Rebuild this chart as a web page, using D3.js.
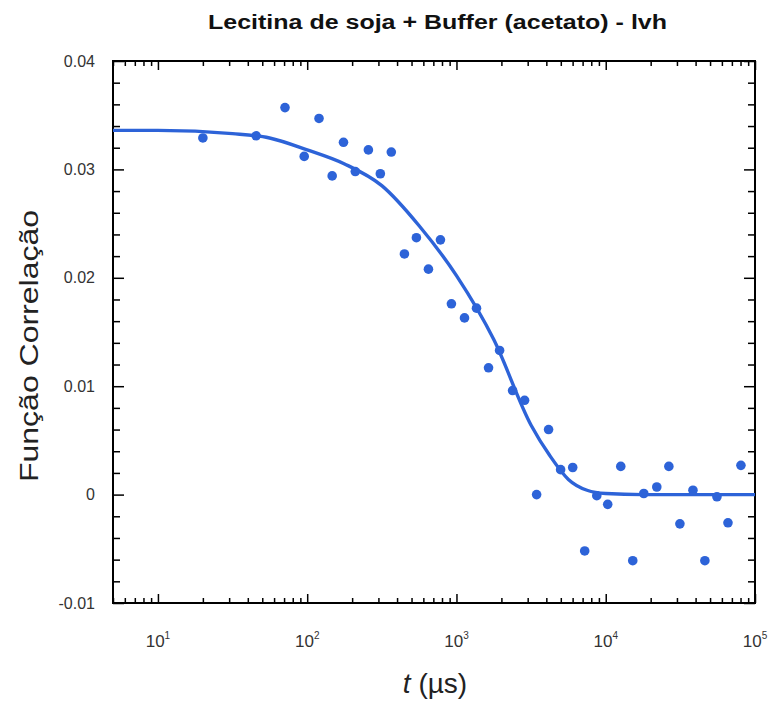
<!DOCTYPE html>
<html>
<head>
<meta charset="utf-8">
<script src="https://cdn.jsdelivr.net/npm/d3@7"></script>
<style>
  body { margin: 0; background: #fff; }
  text { font-family: "Liberation Sans", Arial, sans-serif; }
</style>
</head>
<body>
<div id="chart"></div>
<script>
// measured points: delay time t (µs) and correlation value
var tValues = [20, 45.5, 71, 95.5, 120, 147, 175, 210, 257, 309, 366,
    448, 539, 649, 781, 925, 1132, 1362, 1640, 1945, 2377, 2860,
    3443, 4141, 4985, 6008, 7228, 8710, 10310, 12610, 15170, 17990,
    21980, 26480, 31400, 38400, 46150, 55600, 65900, 80500];
var gValues = [0.0329, 0.0331, 0.0357, 0.0312, 0.0347, 0.0294, 0.0325, 0.0298, 0.0318, 0.0296, 0.0316,
    0.0222, 0.0237, 0.0208, 0.0235, 0.0176, 0.0163, 0.0172, 0.0117, 0.0133, 0.0096, 0.0087,
    0.0000, 0.0060, 0.0023, 0.0025, -0.0052, -0.0001, -0.0009, 0.0026, -0.0061, 0.0001,
    0.0007, 0.0026, -0.0027, 0.0004, -0.0061, -0.0002, -0.0026, 0.0027];

// fitted curve
var fitT = [5, 10, 31.6, 56, 100, 178, 316, 562, 1000, 1778, 3162, 4217, 5623, 7499, 10000, 17783, 100000];
var fitG = [0.0336, 0.0336, 0.0333, 0.0329, 0.0318, 0.0305, 0.0285, 0.0248, 0.0202, 0.0143, 0.0064, 0.0036, 0.0014, 0.0004, 0.0001, 0.0, 0.0];

var yTicks = [-0.01, 0, 0.01, 0.02, 0.03, 0.04];
var yTickLabels = ["-0.01", "0", "0.01", "0.02", "0.03", "0.04"];
var xTicks = [10, 100, 1000, 10000, 100000];
var xTickExp = ["1", "2", "3", "4", "5"];

var width = 774, height = 701;
var plotLeft = 113, plotRight = 755, plotTop = 61, plotBottom = 603;

var svg = d3.select("#chart").append("svg")
    .attr("width", width)
    .attr("height", height);

var x = d3.scaleLog().domain([5, 100000]).range([plotLeft, plotRight]);
var y = d3.scaleLinear().domain([-0.01, 0.04]).range([plotBottom, plotTop]);

var points = tValues.map(function (t, i) { return { t: t, g: gValues[i] }; });
var fit = fitT.map(function (t, i) { return { t: t, g: fitG[i] }; });

var blue = "#2d63d8";

// minor ticks
var xMinor = x.ticks().filter(function (d) {
    return Math.abs(Math.log10(d) - Math.round(Math.log10(d))) > 1e-6;
});
var yMinor = d3.range(-0.01, 0.0401, 0.002).filter(function (d) {
    return Math.abs(d * 100 - Math.round(d * 100)) > 1e-6;
});

function styleAxis(g) {
    g.select(".domain").remove();
    g.selectAll("line").attr("stroke", "#000").attr("stroke-width", 1.5);
    g.selectAll("text").remove();
}

// bottom and top
svg.append("g").attr("transform", "translate(0," + plotBottom + ")")
    .call(d3.axisBottom(x).tickValues(xTicks).tickSize(-9)).call(styleAxis);
svg.append("g").attr("transform", "translate(0," + plotBottom + ")")
    .call(d3.axisBottom(x).tickValues(xMinor).tickSize(-5)).call(styleAxis);
svg.append("g").attr("transform", "translate(0," + plotTop + ")")
    .call(d3.axisTop(x).tickValues(xTicks).tickSize(-9)).call(styleAxis);
svg.append("g").attr("transform", "translate(0," + plotTop + ")")
    .call(d3.axisTop(x).tickValues(xMinor).tickSize(-5)).call(styleAxis);

// left and right
svg.append("g").attr("transform", "translate(" + plotLeft + ",0)")
    .call(d3.axisLeft(y).tickValues(yTicks).tickSize(-11)).call(styleAxis);
svg.append("g").attr("transform", "translate(" + plotLeft + ",0)")
    .call(d3.axisLeft(y).tickValues(yMinor).tickSize(-7)).call(styleAxis);
svg.append("g").attr("transform", "translate(" + plotRight + ",0)")
    .call(d3.axisRight(y).tickValues(yTicks).tickSize(-11)).call(styleAxis);
svg.append("g").attr("transform", "translate(" + plotRight + ",0)")
    .call(d3.axisRight(y).tickValues(yMinor).tickSize(-7)).call(styleAxis);

// frame
svg.append("rect")
    .attr("x", plotLeft).attr("y", plotTop)
    .attr("width", plotRight - plotLeft).attr("height", plotBottom - plotTop)
    .attr("fill", "none")
    .attr("stroke", "#000")
    .attr("stroke-width", 2);

// y tick labels
svg.selectAll(".ylab")
    .data(yTicks)
    .enter()
    .append("text")
    .attr("class", "ylab")
    .attr("x", 95)
    .attr("y", function (d) { return y(d); })
    .attr("dy", "0.35em")
    .attr("text-anchor", "end")
    .attr("font-size", 16)
    .attr("fill", "#333")
    .text(function (d, i) { return yTickLabels[i]; });

// x tick labels with exponents
var xl = svg.selectAll(".xlab")
    .data(xTicks)
    .enter()
    .append("text")
    .attr("class", "xlab")
    .attr("x", function (d) { return x(d); })
    .attr("y", 647)
    .attr("text-anchor", "middle")
    .attr("font-size", 17)
    .attr("fill", "#333");
xl.append("tspan").text("10");
xl.append("tspan")
    .attr("font-size", 10)
    .attr("dy", -8)
    .text(function (d, i) { return xTickExp[i]; });

// clip for curve
svg.append("clipPath").attr("id", "plotClip")
    .append("rect")
    .attr("x", plotLeft).attr("y", plotTop)
    .attr("width", plotRight - plotLeft).attr("height", plotBottom - plotTop);

var line = d3.line()
    .x(function (d) { return x(d.t); })
    .y(function (d) { return y(d.g); })
    .curve(d3.curveMonotoneX);

svg.append("path")
    .datum(fit)
    .attr("clip-path", "url(#plotClip)")
    .attr("d", line)
    .attr("fill", "none")
    .attr("stroke", blue)
    .attr("stroke-width", 3.4);

svg.selectAll(".dot")
    .data(points)
    .enter()
    .append("circle")
    .attr("class", "dot")
    .attr("cx", function (d) { return x(d.t); })
    .attr("cy", function (d) { return y(d.g); })
    .attr("r", 4.8)
    .attr("fill", blue);

// title
svg.append("text")
    .attr("x", 437.5)
    .attr("y", 29)
    .attr("text-anchor", "middle")
    .attr("font-size", 20)
    .attr("font-weight", "bold")
    .attr("fill", "#111")
    .attr("textLength", 459)
    .attr("lengthAdjust", "spacingAndGlyphs")
    .text("Lecitina de soja + Buffer (acetato) - lvh");

// y axis title
svg.append("text")
    .attr("transform", "translate(38,346) rotate(-90)")
    .attr("text-anchor", "middle")
    .attr("font-size", 26)
    .attr("fill", "#222")
    .attr("textLength", 272)
    .attr("lengthAdjust", "spacingAndGlyphs")
    .text("Função Correlação");

// x axis title
var xt = svg.append("text")
    .attr("x", 435)
    .attr("y", 693)
    .attr("text-anchor", "middle")
    .attr("font-size", 28)
    .attr("fill", "#222");
xt.append("tspan").attr("font-style", "italic").text("t");
xt.append("tspan").text(" (µs)");
</script>
</body>
</html>
